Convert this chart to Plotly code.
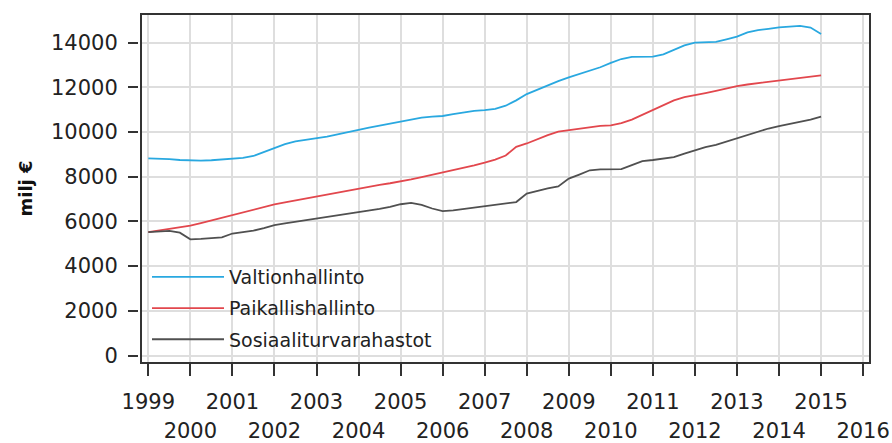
import plotly.graph_objects as go

# Quarterly data 1999Q1 .. 2015Q1 (plotted at year + (q-1)/4)
years = [1999 + i * 0.25 for i in range(65)]

valtionhallinto = [
    8820, 8810, 8790, 8750, 8720, 8720, 8740, 8780,
    8800, 8850, 8930, 9100, 9270, 9460, 9580, 9650,
    9710, 9800, 9900, 10010, 10110, 10200, 10290, 10380,
    10460, 10560, 10650, 10690, 10720, 10800, 10880, 10950,
    10980, 11040, 11180, 11420, 11700, 11900, 12100, 12280,
    12450, 12600, 12750, 12900, 13100, 13270, 13370, 13380,
    13380, 13480, 13680, 13880, 14000, 14010, 14040, 14150,
    14270, 14460, 14560, 14620, 14690, 14720, 14750, 14680,
    14390,
]
paikallishallinto = [
    5520, 5590, 5680, 5750, 5810, 5930, 6050, 6170,
    6280, 6400, 6520, 6640, 6760, 6850, 6940, 7020,
    7100, 7190, 7290, 7390, 7480, 7560, 7640, 7710,
    7780, 7880, 7980, 8080, 8180, 8290, 8400, 8510,
    8630, 8770, 8950, 9340, 9490, 9680, 9860, 10020,
    10090, 10150, 10210, 10280, 10300, 10400, 10560, 10770,
    10980, 11200, 11420, 11560, 11640, 11740, 11840, 11960,
    12060, 12130, 12190, 12250, 12300, 12350, 12420, 12480,
    12540,
]
sosiaaliturvarahastot = [
    5520, 5560, 5580, 5500, 5200, 5220, 5260, 5290,
    5460, 5520, 5590, 5700, 5840, 5910, 5980, 6060,
    6130, 6210, 6280, 6350, 6420, 6490, 6560, 6650,
    6770, 6830, 6740, 6580, 6460, 6500, 6560, 6610,
    6660, 6720, 6800, 6870, 7250, 7380, 7480, 7570,
    7920, 8100, 8290, 8330, 8330, 8340, 8520, 8700,
    8750, 8800, 8880, 9040, 9190, 9330, 9430, 9580,
    9720, 9880, 10040, 10160, 10270, 10370, 10450, 10560,
    10690,
]

series_names = ["Valtionhallinto", "Paikallishallinto", "Sosiaaliturvarahastot"]
series_colors = ["#29a8e0", "#e2474d", "#505050"]

x_tick_years = list(range(1999, 2017))
odd_labels = [str(y) if y % 2 == 1 else "" for y in x_tick_years]
even_years = [y for y in x_tick_years if y % 2 == 0]
even_labels = [str(y) for y in even_years]
y_ticks = list(range(0, 14001, 2000))
y_labels = [str(v) for v in y_ticks]

W, H = 892, 443
ML, MR, MT, MB = 100, 23, 15, 81
PW = W - ML - MR
PH = H - MT - MB

def px_x(p):
    return (p - ML) / PW

def px_y(p):
    return (H - MB - p) / PH

xrange = [1998.85, 2016.14]
yrange = [-290, 15240]

TICKFONT = dict(family="DejaVu Sans", size=21, color="#222222")
AXC = "#333333"
GRID = "#dedede"

fig = go.Figure()
for name, vals, col in zip(series_names,
                           [valtionhallinto, paikallishallinto, sosiaaliturvarahastot],
                           series_colors):
    fig.add_trace(go.Scatter(x=years, y=vals, mode="lines", name=name,
                             legendgroup=name,
                             line=dict(color=col, width=1.8)))

# empty helper traces so the extra tick axes get drawn
fig.add_trace(go.Scatter(x=[], y=[], xaxis="x", yaxis="y2", showlegend=False,
                         hoverinfo="skip"))
fig.add_trace(go.Scatter(x=[], y=[], xaxis="x2", yaxis="y", showlegend=False,
                         hoverinfo="skip"))

fig.update_layout(
    width=W, height=H,
    margin=dict(l=ML, r=MR, t=MT, b=MB, autoexpand=False),
    paper_bgcolor="white", plot_bgcolor="white",
    font=dict(family="DejaVu Sans", color="#222222"),
    showlegend=True,
    legend=dict(
        x=px_x(147), y=px_y(258), xanchor="left", yanchor="top",
        bgcolor="rgba(0,0,0,0)", borderwidth=0,
        font=dict(family="DejaVu Sans", size=19, color="#222222"),
        itemwidth=72, tracegroupgap=3.5, traceorder="grouped",
    ),
    xaxis=dict(
        domain=[px_x(142), 1], range=xrange, automargin=False,
        tickmode="array", tickvals=x_tick_years, ticktext=odd_labels,
        ticks="outside", ticklen=12, tickwidth=2, tickcolor=AXC,
        showline=True, mirror=True, linecolor=AXC, linewidth=2,
        showgrid=True, gridcolor=GRID, gridwidth=1.5, zeroline=False,
        tickfont=TICKFONT, ticklabelstandoff=8,
    ),
    xaxis2=dict(
        overlaying="x", anchor="y", side="bottom", range=xrange, automargin=False,
        tickmode="array", tickvals=even_years, ticktext=even_labels,
        ticks="", showline=False, showgrid=False, zeroline=False,
        tickfont=TICKFONT, ticklabelstandoff=54,
    ),
    yaxis=dict(
        range=yrange, tickmode="array", tickvals=y_ticks, automargin=False,
        showticklabels=False, ticks="",
        showline=True, mirror=True, linecolor=AXC, linewidth=2,
        showgrid=True, gridcolor=GRID, gridwidth=1.5, zeroline=False,
    ),
    yaxis2=dict(
        overlaying="y", anchor="free", position=px_x(138), side="left",
        automargin=False,
        range=yrange, tickmode="array", tickvals=y_ticks, ticktext=y_labels,
        ticks="outside", ticklen=10, tickwidth=2, tickcolor=AXC,
        showline=False, showgrid=False, zeroline=False,
        tickfont=TICKFONT, ticklabelstandoff=6,
        title=dict(text="milj €", font=dict(family="DejaVu Sans", size=18,
                                            weight="bold", color="#111111"),
                   standoff=12),
    ),
    shapes=[dict(type="rect", xref="paper", yref="paper", layer="between",
                 x0=px_x(143), x1=px_x(438), y0=px_y(361), y1=px_y(257),
                 fillcolor="white", line=dict(width=0))],
)

fig.write_html("out.html", config={"displayModeBar": False},
               post_script="document.body.style.margin='0px';")
